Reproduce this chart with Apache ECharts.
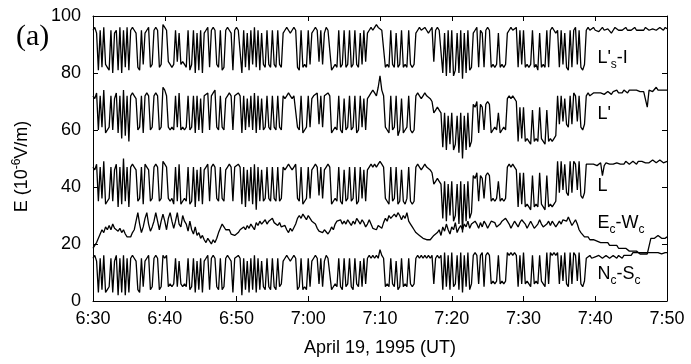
<!DOCTYPE html>
<html>
<head>
<meta charset="utf-8">
<script src="https://cdn.jsdelivr.net/npm/echarts@6/dist/echarts.min.js"></script>
<style>
  html, body { margin: 0; padding: 0; background: #fff; }
  #chart { width: 691px; height: 364px; }
</style>
</head>
<body>
<div id="chart"></div>
<script>
// one sample every 0.25 min, starting 6:30 UT (rows = 5 min each)
const sampleStep = 0.25;
const timeLabels = ['6:30', '6:40', '6:50', '7:00', '7:10', '7:20', '7:30', '7:40', '7:50'];

// L's-I
const lsI = [
  95, 96, 94, 81, 95, 82, 96, 83, 82, 81, 95, 80, 94, 95, 81, 96, 80, 95, 82, 96,
  81, 95, 96, 95, 94, 82, 81, 95, 83, 94, 95, 96, 82, 83, 95, 96, 95, 82, 83, 97,
  96, 95, 84, 83, 82, 83, 95, 84, 94, 83, 84, 83, 82, 95, 81, 83, 95, 80, 94, 81,
  95, 80, 94, 95, 96, 82, 95, 96, 95, 83, 82, 95, 81, 82, 95, 96, 95, 94, 81, 95,
  96, 95, 95, 80, 95, 82, 94, 81, 95, 83, 96, 82, 95, 81, 94, 83, 82, 95, 83, 82,
  95, 83, 82, 95, 83, 82, 94, 95, 96, 95, 94, 95, 96, 95, 82, 81, 95, 82, 83, 82,
  95, 83, 94, 95, 96, 95, 84, 95, 83, 94, 96, 95, 95, 81, 82, 83, 82, 95, 82, 83,
  95, 82, 83, 95, 82, 83, 95, 83, 82, 94, 83, 95, 84, 94, 95, 96, 95, 96, 97, 96,
  96, 95, 95, 82, 83, 82, 95, 83, 82, 94, 82, 83, 95, 82, 83, 82, 95, 83, 82, 83,
  94, 95, 96, 95, 95, 96, 95, 94, 95, 96, 84, 95, 96, 95, 95, 80, 94, 79, 95, 80,
  95, 79, 81, 94, 80, 95, 78, 94, 80, 95, 81, 82, 94, 95, 96, 82, 95, 94, 82, 95,
  96, 95, 82, 83, 82, 83, 94, 82, 83, 82, 83, 94, 95, 96, 95, 95, 96, 82, 95, 83,
  95, 82, 83, 82, 83, 95, 82, 83, 81, 94, 82, 83, 82, 95, 82, 95, 96, 95, 94, 95,
  82, 95, 83, 94, 82, 81, 95, 82, 95, 96, 83, 95, 82, 81, 83, 95, 96, 95, 95, 96,
  95, 95.5, 94.5, 95, 96, 95, 94.5, 95.5, 95, 94, 95, 96, 95.5, 95, 94.5, 95, 95.5, 96, 95, 94.5,
  95, 95.5, 96, 95, 94.5, 95, 95.5, 95, 96, 95.5, 95, 94.5, 95.5, 96, 95, 95.5, 96, 95.5, 95, 96,
  95.5
];

// L'
const lPrime = [
  72, 71, 73, 60, 72, 61, 74, 59, 60, 61, 72, 60, 71, 73, 59, 72, 57, 74, 58, 72,
  56, 72, 73, 72, 71, 60, 61, 72, 59, 72, 73, 72, 60, 61, 72, 73, 72, 60, 61, 75,
  74, 72, 61, 60, 61, 60, 72, 61, 73, 60, 61, 60, 61, 72, 60, 61, 72, 59, 72, 60,
  71, 59, 72, 72, 73, 60, 72, 73, 74, 61, 60, 72, 61, 60, 71, 72, 73, 72, 60, 72,
  72, 73, 72, 59, 72, 60, 71, 61, 72, 60, 73, 59, 72, 60, 71, 60, 61, 72, 61, 60,
  72, 61, 60, 72, 61, 60, 72, 71, 72, 73, 72, 71, 72, 72, 61, 60, 72, 59, 60, 61,
  72, 61, 71, 72, 72, 73, 62, 72, 61, 72, 72, 73, 72, 59, 60, 61, 60, 72, 60, 59,
  71, 60, 61, 72, 60, 61, 72, 59, 60, 72, 61, 71, 60, 71, 72, 73, 74, 73, 72, 75,
  79, 74, 72, 61, 60, 59, 72, 60, 61, 72, 58, 60, 71, 59, 60, 61, 72, 60, 59, 60,
  72, 73, 72, 71, 72, 73, 72, 72, 71, 70, 66, 67, 68, 67, 66, 54, 66, 53, 65, 55,
  66, 53, 55, 65, 52, 66, 50, 65, 53, 66, 54, 56, 69, 68, 70, 59, 69, 68, 60, 69,
  70, 69, 59, 60, 61, 60, 66, 59, 60, 61, 60, 71, 72, 71, 72, 71, 70, 56, 68, 57,
  68, 56, 57, 56, 55, 67, 56, 57, 56, 68, 57, 56, 55, 67, 56, 57, 56, 57, 58, 72,
  62, 72, 63, 71, 62, 61, 72, 62, 73, 72, 63, 72, 61, 60, 62, 72, 73, 72, 72.5, 73,
  72.5, 73, 72.5, 73, 73.5, 72.5, 73, 73.5, 73, 72.5, 73.5, 73, 74, 73, 73.5, 73, 74, 73.5, 73, 74,
  73.5, 74, 73.5, 74, 74.5, 73.5, 74, 73.5, 74, 68, 74, 74.5, 73.5, 74, 75, 74, 74.5, 74, 73.5, 74,
  74
];

// L
const lField = [
  47, 46, 48, 35, 47, 36, 49, 34, 35, 36, 47, 35, 46, 48, 33, 47, 34, 50, 35, 47,
  33, 47, 48, 47, 46, 35, 36, 47, 34, 48, 47, 46, 35, 36, 47, 48, 47, 35, 36, 49,
  48, 47, 36, 35, 36, 34, 47, 35, 48, 34, 35, 36, 35, 47, 34, 35, 47, 33, 46, 35,
  47, 34, 46, 47, 48, 35, 47, 48, 47, 36, 35, 47, 36, 35, 46, 47, 48, 47, 35, 47,
  47, 48, 47, 34, 47, 33, 46, 35, 47, 34, 48, 32, 47, 35, 46, 35, 36, 47, 36, 35,
  47, 36, 35, 47, 35, 36, 47, 46, 47, 48, 47, 46, 47, 48, 36, 35, 47, 34, 35, 36,
  47, 36, 46, 47, 48, 47, 37, 47, 36, 46, 47, 48, 47, 34, 35, 36, 35, 47, 35, 34,
  46, 35, 36, 47, 35, 36, 47, 34, 35, 47, 36, 46, 35, 46, 47, 48, 47, 48, 47, 48,
  49, 48, 47, 36, 35, 34, 47, 35, 36, 47, 34, 35, 46, 35, 34, 36, 47, 35, 34, 35,
  47, 48, 47, 46, 47, 48, 47, 47, 46, 45, 41, 42, 43, 42, 41, 29, 42, 28, 41, 30,
  42, 28, 30, 41, 27, 42, 24, 41, 28, 42, 29, 31, 44, 43, 45, 35, 44, 43, 36, 44,
  45, 44, 35, 36, 35, 36, 42, 35, 36, 35, 36, 47, 48, 47, 48, 47, 46, 33, 45, 34,
  45, 33, 34, 33, 32, 44, 33, 34, 33, 45, 34, 33, 32, 44, 33, 34, 33, 34, 35, 49,
  38, 49, 39, 48, 38, 37, 49, 38, 49, 48, 39, 49, 37, 36, 38, 48, 48.5, 48, 47.5, 48,
  48, 47.5, 48, 48.5, 44, 47.5, 48.5, 48.5, 48, 48.5, 48, 47.5, 48.5, 49, 48, 48.5, 48, 49, 48.5, 48,
  48.5, 49, 48.5, 48, 49, 48.5, 49, 49.5, 48.5, 49, 48.5, 49, 49.5, 49, 48.5, 49, 49.5, 49, 48.5, 49,
  49
];

// Ec-Wc
const ecWc = [
  18.5, 19.5, 20.5, 22, 23.5, 25, 24, 26, 25, 26.5, 25, 27, 25.5, 26, 24.5, 25.5, 24, 25, 23.5, 22.5,
  23, 22.5, 24, 25, 28, 31, 27, 24, 26, 29, 31, 27, 24.5, 26, 28, 31, 28, 25, 28, 30.5,
  28, 25, 29, 31, 28, 25.5, 28, 31, 27, 26, 30, 28, 27, 24.5, 28, 25, 23.5, 26, 23, 24,
  22, 23, 21.5, 20.5, 22, 21, 20, 21.5, 20.5, 22, 24, 25.5, 27, 26, 25, 24.5, 25, 23.5, 24, 23,
  23.5, 24, 25, 24.5, 26, 25, 26.5, 25.5, 27, 26, 25, 27.5, 26.5, 28, 27, 26.5, 28.5, 27, 28, 27.5,
  29, 27.5, 28, 26.5, 27.5, 26, 25.5, 26.5, 25, 24, 25.5, 24.5, 25, 27, 29, 30, 29, 30.5, 29.5, 28.5,
  30, 29, 28, 28.5, 27, 25.5, 24.5, 25, 24, 25, 24.5, 23.5, 24.5, 26, 25, 27, 28, 27.5, 28.5, 27,
  28, 27, 28.5, 27.5, 26.5, 28, 27, 29, 28, 27, 28.5, 27.5, 26, 27, 28.5, 27, 25.5, 26, 25, 26.5,
  27, 25.5, 27.5, 29, 28, 30, 29, 28.5, 30.5, 29.5, 31, 30, 28.5, 30, 29, 31, 28, 27, 26, 25,
  24, 23.5, 23, 22.5, 22, 22.5, 21.5, 22, 21.5, 22, 23, 22.5, 24, 25, 23, 26, 24.5, 27, 25, 23.5,
  26, 25, 27.5, 24, 25.5, 26.5, 25, 27, 26, 28, 25.5, 27, 26.5, 28, 27, 25.5, 27.5, 26, 28, 27,
  25.5, 26, 28, 28.5, 27.5, 26, 25.5, 27, 28, 27.5, 29, 28, 27, 25.5, 26, 28, 27.5, 26, 27.5, 28.5,
  28, 27, 25.5, 26, 28, 27.5, 25.5, 26, 27, 28.5, 27, 26, 25.5, 27, 28, 26.5, 28, 27.5, 26, 27,
  28, 27, 28.5, 29, 28, 29.5, 28, 26.5, 27, 28.5, 27, 25, 24, 23.5, 22.5, 22, 22.5, 21.5, 22, 21.5,
  21.5, 21, 21.5, 20.5, 21, 20.5, 20, 20.5, 19.5, 20, 19.5, 19, 19.5, 18.5, 19, 18.5, 18, 18.5, 18, 17.5,
  18, 17.5, 17, 17.5, 17, 16.5, 17, 16.5, 17, 16.5, 16, 22, 22.5, 22, 22.5, 23, 22.5, 22, 22.5, 22,
  22.5
];

// Nc-Sc
const ncSc = [
  15, 16, 14, 3, 15, 4, 16, 3, 4, 5, 15, 3, 14, 16, 2, 15, 3, 16, 2, 15,
  3, 15, 16, 15, 14, 4, 3, 15, 5, 14, 15, 16, 4, 5, 15, 16, 15, 4, 5, 16,
  15, 16, 5, 6, 5, 6, 15, 5, 14, 6, 5, 6, 5, 15, 4, 5, 15, 3, 14, 4,
  15, 3, 14, 15, 16, 4, 15, 16, 15, 5, 4, 15, 4, 5, 15, 16, 15, 14, 3, 15,
  15, 16, 15, 2, 15, 4, 14, 3, 15, 4, 16, 3, 15, 4, 14, 5, 4, 15, 5, 4,
  15, 5, 4, 15, 5, 6, 14, 15, 16, 15, 14, 15, 16, 15, 4, 5, 15, 4, 5, 4,
  15, 5, 14, 15, 16, 15, 6, 15, 5, 14, 16, 15, 15, 4, 5, 6, 5, 15, 5, 4,
  15, 5, 6, 15, 5, 4, 15, 6, 5, 14, 5, 15, 6, 15, 16, 15, 16, 15, 16, 15,
  18, 16, 15, 5, 6, 5, 15, 6, 5, 14, 4, 5, 15, 5, 6, 5, 15, 6, 5, 6,
  15, 16, 15, 16, 15, 16, 15, 16, 15, 16, 6, 15, 16, 15, 16, 4, 17, 5, 16, 4,
  17, 5, 6, 16, 4, 17, 3, 16, 5, 17, 4, 6, 16, 17, 16, 6, 16, 17, 5, 16,
  17, 16, 6, 7, 6, 7, 16, 6, 7, 6, 7, 17, 16, 17, 16, 17, 16, 5, 16, 6,
  17, 6, 7, 6, 5, 16, 6, 7, 6, 16, 7, 6, 5, 17, 6, 17, 16, 17, 16, 17,
  6, 16, 7, 17, 6, 5, 17, 6, 17, 16, 7, 17, 6, 5, 7, 15, 15.5, 16, 15, 15.5,
  15.5, 15, 16, 15.5, 15, 15.5, 16, 15.5, 15, 15.5, 16, 15.5, 15, 16, 15.5, 15, 16, 15.5, 16, 15.5,
  16, 17, 16.5, 17, 17.5, 17, 16.5, 17, 17.5, 17, 16.5, 17, 17.5, 17, 16.5, 17, 17, 16.5, 17, 17,
  17
];

const traceNames = ["L'{s|s}-I", "L'", 'L', 'E{s|c}-W{s|c}', 'N{s|c}-S{s|c}'];
const traces = [lsI, lPrime, lField, ecWc, ncSc];
// where the trace names sit, in (minutes, field) units
const nameSpots = [[70.3, 85.3], [70.3, 65.6], [70.3, 40.3], [70.3, 27.5], [70.3, 9.5]];

const FONT = 'Liberation Sans, Arial, sans-serif';
const INK = '#000';

const chart = echarts.init(document.getElementById('chart'));

function toPairs(vals) {
  return vals.map((v, i) => [i * sampleStep, v]);
}

const tickCommon = { show: true, inside: true, length: 5, lineStyle: { color: INK, width: 1 } };
const lineCommon = { show: true, onZero: false, lineStyle: { color: INK, width: 1 } };

const option = {
  animation: false,
  backgroundColor: '#fff',
  grid: { left: 93, right: 24, top: 16, bottom: 63, containLabel: false, outerBoundsMode: 'none' },
  xAxis: [
    {
      type: 'value', min: 0, max: 80, interval: 10, position: 'bottom',
      axisLine: lineCommon, axisTick: tickCommon, splitLine: { show: false },
      axisLabel: {
        margin: 9, color: INK, fontSize: 18, fontFamily: FONT,
        formatter: v => timeLabels[Math.round(v / 10)]
      },
      name: 'April 19, 1995 (UT)', nameLocation: 'middle', nameGap: 38,
      nameTextStyle: { color: INK, fontSize: 18, fontFamily: FONT }
    },
    {
      type: 'value', min: 0, max: 80, interval: 10, position: 'top',
      axisLine: lineCommon, axisTick: tickCommon, axisLabel: { show: false }, splitLine: { show: false }
    }
  ],
  yAxis: [
    {
      type: 'value', min: 0, max: 100, interval: 20, position: 'left',
      axisLine: lineCommon, axisTick: tickCommon, splitLine: { show: false },
      axisLabel: { margin: 12, color: INK, fontSize: 18, fontFamily: FONT },
      name: 'E (10{sup|-6}V/m)', nameLocation: 'middle', nameGap: 60, nameRotate: 90,
      nameTextStyle: {
        color: INK, fontSize: 18, fontFamily: FONT, lineHeight: 22, padding: [0, 16, 0, 0],
        rich: { sup: { fontSize: 12, fontFamily: FONT, color: INK, verticalAlign: 'top', lineHeight: 12 } }
      }
    },
    {
      type: 'value', min: 0, max: 100, interval: 20, position: 'right',
      axisLine: lineCommon, axisTick: tickCommon, axisLabel: { show: false }, splitLine: { show: false }
    }
  ],
  series: traces.map(vals => ({
    type: 'line',
    xAxisIndex: 0,
    yAxisIndex: 0,
    data: toPairs(vals),
    showSymbol: false,
    symbol: 'none',
    sampling: 'none',
    lineStyle: { color: INK, width: 1.3 },
    emphasis: { disabled: true },
    silent: true
  }))
};

chart.setOption(option);

const graphics = traceNames.map((txt, k) => {
  const p = chart.convertToPixel({ gridIndex: 0 }, nameSpots[k]);
  return {
    type: 'text', x: p[0], y: p[1], silent: true,
    style: {
      text: txt, fill: INK, fontSize: 18, fontFamily: FONT,
      align: 'left', verticalAlign: 'middle', lineHeight: 26,
      rich: { s: { fontSize: 12, fontFamily: FONT, fill: INK, verticalAlign: 'bottom', lineHeight: 12 } }
    }
  };
});

graphics.push({
  type: 'text', x: 16, y: 37, silent: true,
  style: {
    text: '(a)', fill: INK, fontSize: 30, fontFamily: 'Liberation Serif, Times New Roman, serif',
    align: 'left', verticalAlign: 'middle'
  }
});

chart.setOption({ graphic: graphics });
</script>
</body>
</html>
